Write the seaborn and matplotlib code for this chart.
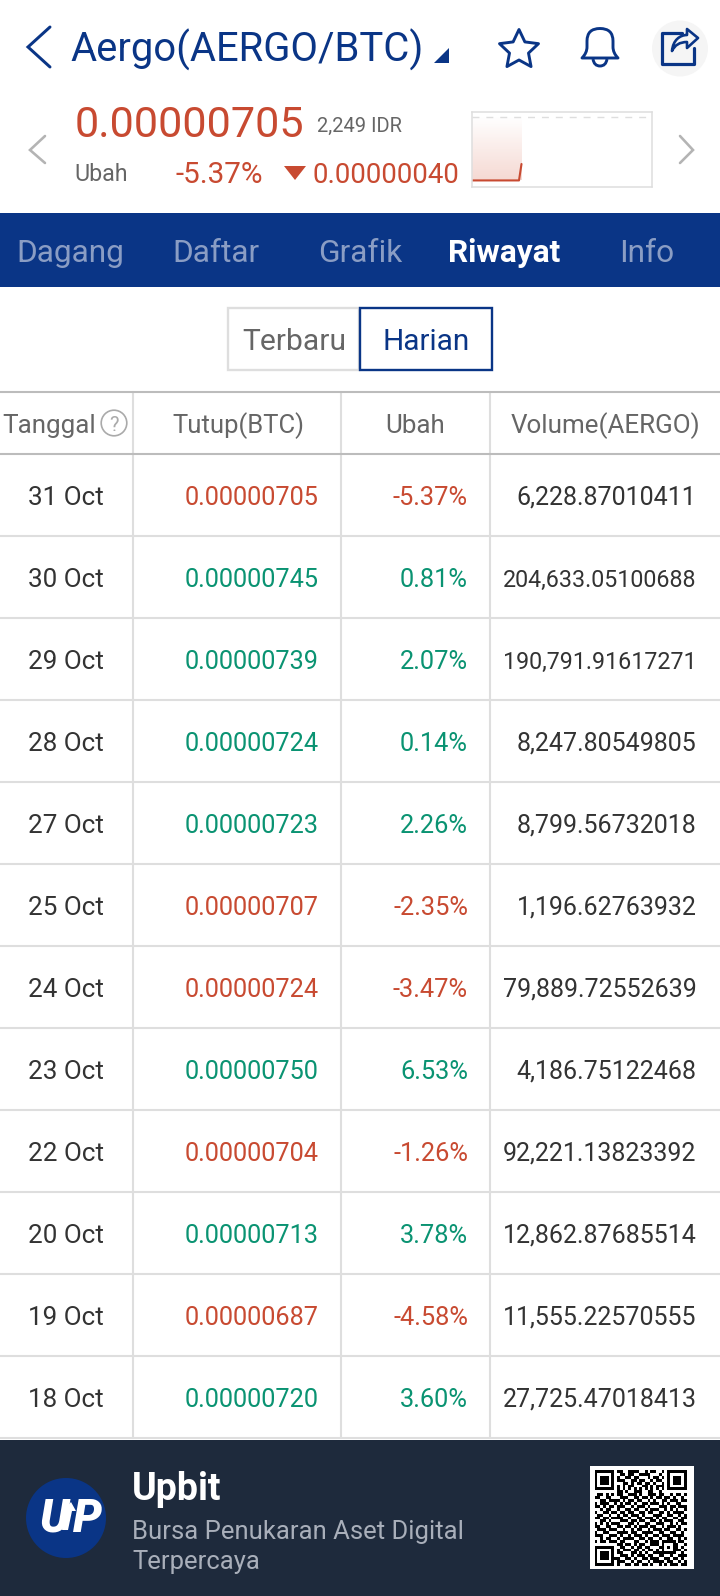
import numpy as np
import pandas as pd
import seaborn as sns
import matplotlib.pyplot as plt
from matplotlib.patches import Rectangle, Circle, PathPatch, Polygon
from matplotlib.path import Path

# table data
dates = ["31 Oct", "30 Oct", "29 Oct", "28 Oct", "27 Oct", "25 Oct",
         "24 Oct", "23 Oct", "22 Oct", "20 Oct", "19 Oct", "18 Oct"]
closes = ["0.00000705", "0.00000745", "0.00000739", "0.00000724",
          "0.00000723", "0.00000707", "0.00000724", "0.00000750",
          "0.00000704", "0.00000713", "0.00000687", "0.00000720"]
changes = [-5.37, 0.81, 2.07, 0.14, 2.26, -2.35,
           -3.47, 6.53, -1.26, 3.78, -4.58, 3.60]
volumes = ["6,228.87010411", "204,633.05100688", "190,791.91617271",
           "8,247.80549805", "8,799.56732018", "1,196.62763932",
           "79,889.72552639", "4,186.75122468", "92,221.13823392",
           "12,862.87685514", "11,555.22570555", "27,725.47018413"]
col_heads = ["Tanggal", "Tutup(BTC)", "Ubah", "Volume(AERGO)"]
tabs = ["Dagang", "Daftar", "Grafik", "Riwayat", "Info"]

# sparkline, price in 1e-8 BTC over the day
spark_minutes = [0, 60, 120, 180, 240, 300, 376, 396]
spark_price = [691, 691, 691, 691, 691, 691, 691, 705]
prev_close = 745

# qr code, read by eye
qr_rows = """
11111110 11001111001011001 01111111
10000010 01101100111100010 01000001
10111010 10011011000101101 01011101
10111010 11100110110010110 01011101
10111010 00110101101101001 01011101
10000010 10101100011010111 01000001
11111110 10101010101010101 01111111
00000000 11010011100110010 00000000
01101010110 01110100111 01100101101
11001100011 10011011010 11011010010
00110111101 01101100101 00110111011
10111001010 11010011011 10101001100
11010110111 00101110100 01110110111
00101100100 11011001011 10010101001
10011011011 01100110110 01101011110
01100100101 10111010001 11001100101
11011011110 01001101110 10110011011
00110100011 10110110011 01011100110
10101011100 01101001100 11100101011
11001100110 11010111011 00101110100
01110111001 00101100101 11011001101
10011000111 10110011110 01100110010
11100111010 01011101001 10111011110
00101100101 11100110110 01001100101
10110111011 00011001011 10111110110
00000000110 11010110011 10100011001
11111110011 00101101100 01101011010
10000010101 11011010110 10100011101
10111010110 00110101001 11111110010
10111010011 10101110110 01100100111
10111011100 11010011011 10011011010
10000010111 00101100101 11101100101
11111110100 11011011010 01010111011
"""

NAVY = "#0a3586"
RED = "#c84a31"
GREEN = "#0a9372"
GREY = "#666666"
DARK = "#333333"
LINE = "#dedede"
LINE2 = "#bcbcbc"
FOOT = "#1e2a3c"

sns.set_theme(style="white")
plt.rcParams['font.family'] = ['Roboto', 'DejaVu Sans']

fig = plt.figure(figsize=(7.2, 15.96), dpi=100, facecolor="white")
ax = fig.add_axes([0, 0, 1, 1])
ax.set_xlim(0, 720)
ax.set_ylim(1596, 0)
ax.axis("off")


def txt(x, y, s, px, color, ha="left", weight="normal", **kw):
    ax.text(x, y, s, fontsize=px * 0.72, color=color, ha=ha, va="baseline",
            fontweight=weight, **kw)


def chevron(pts, color, lw):
    xs, ys = zip(*pts)
    ax.plot(xs, ys, color=color, lw=lw * 0.72, solid_capstyle="round",
            solid_joinstyle="miter")


# header
chevron([(50, 27), (28, 47), (50, 67)], NAVY, 3)
txt(70, 62, "Aergo(AERGO/BTC)", 40, NAVY)
ax.add_patch(Polygon([(449, 48), (449, 63), (434, 63)], color=NAVY, lw=0))

# star
ang = np.pi / 2 + np.arange(10) * np.pi / 5
rad = np.where(np.arange(10) % 2 == 0, 20.5, 10)
ax.add_patch(Polygon(np.c_[519 + rad * np.cos(ang), 50 - rad * np.sin(ang)],
                     fill=False, ec=NAVY, lw=2.1, joinstyle="round"))
# bell
bell = Path([(582, 58), (587, 53), (587, 47), (587, 41), (587, 28.5), (600, 28.5),
             (613, 28.5), (613, 41), (613, 47), (613, 53), (618, 58), (582, 58)],
            [Path.MOVETO, Path.CURVE3, Path.CURVE3, Path.LINETO, Path.CURVE3, Path.CURVE3,
             Path.CURVE3, Path.CURVE3, Path.LINETO, Path.CURVE3, Path.CURVE3, Path.CLOSEPOLY])
ax.add_patch(PathPatch(bell, fill=False, ec=NAVY, lw=2.1, joinstyle="round"))
clap = Path([(593, 59), (594, 66), (600, 66), (606, 66), (607, 59)],
            [Path.MOVETO, Path.CURVE3, Path.CURVE3, Path.CURVE3, Path.CURVE3])
ax.add_patch(PathPatch(clap, fill=False, ec=NAVY, lw=2.1))
# share
ax.add_patch(Circle((680, 48.5), 28, color="#f5f5f5", lw=0))
ax.plot([682, 661.5, 661.5, 694, 694, ], [33, 33, 64, 64, 48], color=NAVY, lw=2.3,
        solid_joinstyle="round", solid_capstyle="round")
arrow = Path([(687, 29), (698, 38), (687, 48), (687, 42), (676, 42), (672, 51),
              (673, 40), (680, 35), (687, 35), (687, 29)],
             [Path.MOVETO, Path.LINETO, Path.LINETO, Path.LINETO, Path.CURVE3, Path.CURVE3,
              Path.CURVE4, Path.CURVE4, Path.CURVE4, Path.CLOSEPOLY])
ax.add_patch(PathPatch(arrow, fc="none", ec=NAVY, lw=1.9, joinstyle="round"))

# price block
chevron([(45, 136), (30, 150), (45, 163)], "#b4b4b4", 2.6)
chevron([(680, 136), (693, 150), (680, 163)], "#b4b4b4", 2.6)
txt(74.5, 137, "0.00000705", 43.2, RED)
txt(317, 132, "2,249 IDR", 20.2, GREY)
txt(74, 181, "Ubah", 23.2, GREY)
txt(175, 183, "-5.37%", 29.6, RED)
ax.add_patch(Polygon([(284, 166), (306, 166), (295, 180)], color=RED, lw=0))
txt(313, 183, "0.00000040", 27.6, RED)

# sparkline
sp = fig.add_axes([472 / 720, 1 - 187 / 1596, 180 / 720, 75 / 1596])
spark = pd.DataFrame({"minute": spark_minutes, "price": spark_price})
grad = np.zeros((64, 2, 4))
grad[:, :, :3] = (0.86, 0.45, 0.36)
grad[:, :, 3] = np.linspace(0, 0.27, 64)[:, None]
sp.imshow(grad, extent=[0, 396, 691, prev_close], origin="upper", aspect="auto")
sp.axhline(prev_close, xmax=0.97, color=LINE, lw=1, ls=(0, (5, 5)))
sns.lineplot(data=spark, x="minute", y="price", ax=sp, color=RED, lw=1.5)
sp.set_xlim(0, 1440)
sp.set_ylim(685.4, 749.3)
sp.set_xticks([])
sp.set_yticks([])
sp.set_xlabel("")
sp.set_ylabel("")
for s in sp.spines.values():
    s.set_color(LINE)
    s.set_linewidth(1.1)

# tab bar
ax.add_patch(Rectangle((0, 213), 720, 73.5, color=NAVY, lw=0))
tab_x = [16.5, 172, 318.5, 448, 619]
for name, x in zip(tabs, tab_x):
    active = name == "Riwayat"
    txt(x, 262, name, 31.6, "white" if active else "#8a9dc4",
        weight="bold" if active else "normal")

# toggle
ax.add_patch(Rectangle((228, 308), 131, 61.5, fc="white", ec=LINE, lw=1.7))
ax.add_patch(Rectangle((359.5, 308), 132.7, 61.5, fc="white", ec=NAVY, lw=1.7))
txt(294, 350, "Terbaru", 30, GREY, ha="center")
txt(426, 350, "Harian", 29.8, NAVY, ha="center")

# table grid
row_h = 82
top = 392
head = 454
bottom = head + row_h * len(dates)
for x in [133, 341, 490]:
    ax.plot([x, x], [top, bottom], color=LINE, lw=1.5)
ax.plot([0, 720], [top, top], color=LINE2, lw=1.5)
ax.plot([0, 720], [head, head], color=LINE2, lw=1.5)
for i in range(1, len(dates) + 1):
    y = head + row_h * i
    ax.plot([0, 720], [y, y], color=LINE, lw=1.5)

# table head
txt(2.5, 433, col_heads[0], 26, GREY)
ax.add_patch(Circle((114, 423), 12.8, fill=False, ec="#aaaaaa", lw=1.2))
txt(114, 431, "?", 20, "#aaaaaa", ha="center")
for name, x, px in zip(col_heads[1:], [238, 415, 605.5], [25.6, 26, 26]):
    txt(x, 433, name, px, GREY, ha="center")

# table rows
for i in range(len(dates)):
    y = head + row_h * i + 51
    c = RED if changes[i] < 0 else GREEN
    txt(66, y, dates[i], 26, DARK, ha="center")
    txt(319, y, closes[i], 25.2, c, ha="right")
    txt(468, y, f"{changes[i]:.2f}%", 25.4, c, ha="right")
    # the longest numbers are squeezed to fit the column
    txt(696.5, y, volumes[i], 23.3 if len(volumes[i]) > 15 else 25, DARK, ha="right")

# footer
ax.add_patch(Rectangle((0, 1440), 720, 156, color=FOOT, lw=0))
ax.add_patch(Circle((66, 1518), 40, color=NAVY, lw=0))
ax.text(69, 1532, "U", fontsize=33, color="white", ha="right", va="baseline",
        fontweight=900, fontstyle="italic")
ax.text(73, 1532, "P", fontsize=33, color="white", ha="left", va="baseline",
        fontweight=900, fontstyle="italic")
ax.add_patch(Polygon([(71, 1502), (63, 1511), (76, 1511)], color="white", lw=0))
ax.add_patch(Polygon([(66, 1511), (72, 1511), (68, 1530), (62, 1530)], color="white", lw=0))
txt(132, 1500, "Upbit", 37.5, "white", weight="bold")
txt(132, 1539, "Bursa Penukaran Aset Digital", 25.6, "#a9afba")
txt(132, 1569, "Terpercaya", 25.6, "#a9afba")

# qr
ax.add_patch(Rectangle((590, 1466), 104, 103, color="white", lw=0))
qr = pd.DataFrame([[int(v) for v in r.replace(" ", "")]
                   for r in qr_rows.strip().splitlines()])
qa = fig.add_axes([594.7 / 720, 1 - 1566 / 1596, 92 / 720, 96 / 1596])
sns.heatmap(qr, ax=qa, cmap=["white", "black"], cbar=False, vmin=0, vmax=1,
            xticklabels=False, yticklabels=False)

plt.savefig("out.png", dpi=100)
